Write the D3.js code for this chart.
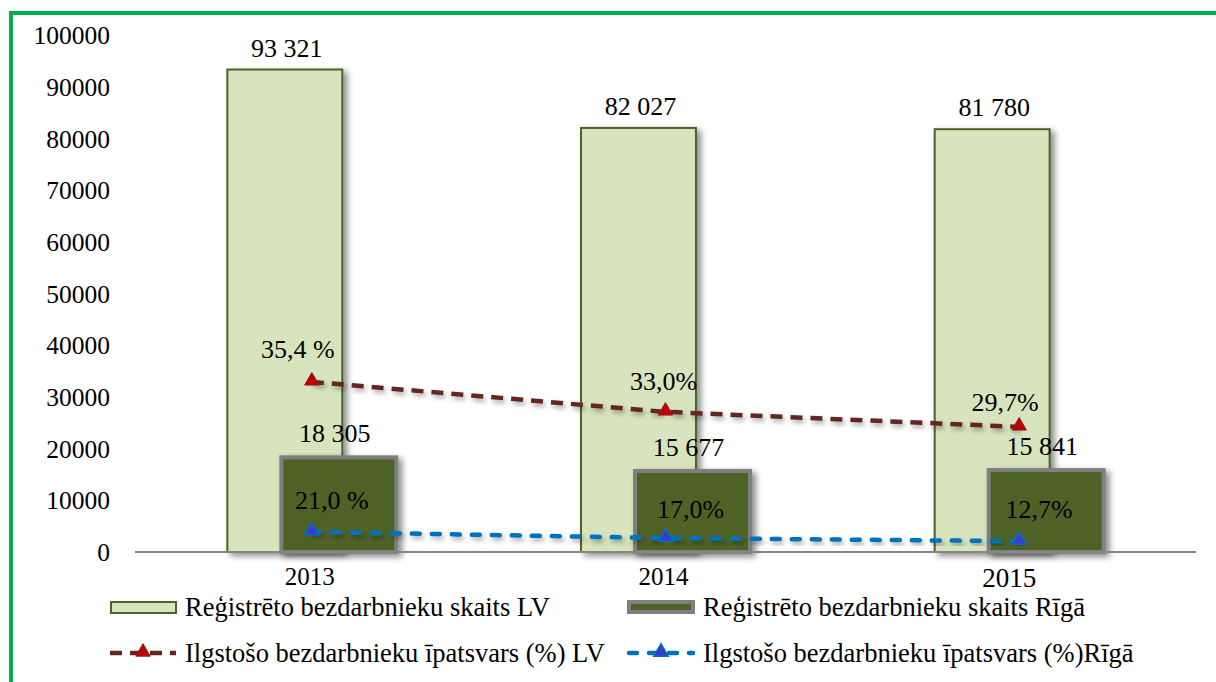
<!DOCTYPE html>
<html>
<head>
<meta charset="utf-8">
<script src="https://cdn.jsdelivr.net/npm/d3@7"></script>
<style>
  body { margin: 0; background: #fff; }
  svg text { font-family: "Liberation Serif", "Times New Roman", serif; fill: #000; }
</style>
</head>
<body>
<div id="chart"></div>
<script>
// data
const years = ["2013", "2014", "2015"];
const regLV = [93321, 82027, 81780];
const regRiga = [18305, 15677, 15841];
// long-term share, plotted on a hidden secondary axis (0..100)
const shareLV = [32.9, 27.1, 24.2];
const shareRiga = [3.9, 2.7, 2.1];
const shareLVLabels = ["35,4 %", "33,0%", "29,7%"];
const shareRigaLabels = ["21,0 %", "17,0%", "12,7%"];
const yTicks = [0, 10000, 20000, 30000, 40000, 50000, 60000, 70000, 80000, 90000, 100000];

const W = 1216, H = 682;
const plot = {left: 135, right: 1196, top: 35, bottom: 552};

const svg = d3.select("#chart").append("svg")
    .attr("width", W)
    .attr("height", H);

let defs = svg.append("defs");
let sh = defs.append("filter").attr("id", "shadow")
    .attr("x", "-20%").attr("y", "-20%").attr("width", "150%").attr("height", "150%");
sh.append("feDropShadow").attr("dx", 4).attr("dy", 3).attr("stdDeviation", 3)
    .attr("flood-color", "#000").attr("flood-opacity", 0.45);
let shl = defs.append("filter").attr("id", "lshadow")
    .attr("x", "-5%").attr("y", "-50%").attr("width", "110%").attr("height", "200%");
shl.append("feDropShadow").attr("dx", 2).attr("dy", 3).attr("stdDeviation", 2.5)
    .attr("flood-color", "#000").attr("flood-opacity", 0.35);

// green frame
svg.append("rect")
    .attr("x", 11).attr("y", 13)
    .attr("width", 1240).attr("height", 700)
    .attr("fill", "none")
    .attr("stroke", "#00b050")
    .attr("stroke-width", 4);

let x = d3.scaleBand()
    .domain(years)
    .range([plot.left, plot.right]);

let y = d3.scaleLinear()
    .domain([0, 100000])
    .range([plot.bottom, plot.top]);

let yPct = d3.scaleLinear()
    .domain([0, 100])
    .range([plot.bottom, plot.top]);

let barW = x.bandwidth() * 0.325;
let offset = barW * 0.47;
let cx = d => x(d) + x.bandwidth() / 2;
let lvX = d => cx(d) - (barW + offset) / 2;
let rigaX = d => lvX(d) + offset;

// y axis labels (no axis line)
let yaxis = svg.append("g")
    .attr("transform", "translate(" + 110 + ",0)")
    .call(d3.axisLeft(y).tickValues(yTicks).tickFormat(d3.format("d")).tickSize(0).tickPadding(0));
yaxis.select(".domain").remove();
yaxis.attr("font-family", null);
yaxis.selectAll("text")
    .style("font-family", '"Liberation Serif", serif')
    .attr("font-size", 25.5)
    .attr("dy", "0.34em")
    .attr("fill", "#000");

// bars LV
svg.append("g").selectAll("rect")
    .data(years)
    .join("rect")
    .attr("x", d => lvX(d))
    .attr("y", (d, i) => y(regLV[i]))
    .attr("width", barW)
    .attr("height", (d, i) => y(0) - y(regLV[i]))
    .attr("fill", "#d7e4bd")
    .attr("stroke", "#4f6228")
    .attr("stroke-width", 2)
    .attr("filter", "url(#shadow)");

// bars Riga
svg.append("g").selectAll("rect")
    .data(years)
    .join("rect")
    .attr("x", d => rigaX(d))
    .attr("y", (d, i) => y(regRiga[i]))
    .attr("width", barW)
    .attr("height", (d, i) => y(0) - y(regRiga[i]))
    .attr("fill", "#4f6228")
    .attr("stroke", "#7f7f7f")
    .attr("stroke-width", 4)
    .attr("filter", "url(#shadow)");

// baseline
svg.append("line")
    .attr("x1", plot.left).attr("x2", plot.right)
    .attr("y1", y(0)).attr("y2", y(0))
    .attr("stroke", "#868686")
    .attr("stroke-width", 2);

// x labels
let xlab = svg.append("g");
xlab.selectAll("text")
    .data(years)
    .join("text")
    .attr("x", (d, i) => cx(d) - (i === 2 ? 10 : 2))
    .attr("y", (d, i) => i === 2 ? 587 : 585)
    .attr("text-anchor", "middle")
    .attr("font-size", (d, i) => i === 2 ? 27 : 25)
    .text(d => d);

// lines
let lineLV = d3.line().x(d => cx(d.year)).y(d => yPct(d.v));
let lvPts = years.map((d, i) => ({year: d, v: shareLV[i]}));
let rigaPts = years.map((d, i) => ({year: d, v: shareRiga[i]}));

svg.append("path")
    .datum(lvPts)
    .attr("d", lineLV)
    .attr("fill", "none")
    .attr("stroke", "#632523")
    .attr("stroke-width", 4.5)
    .attr("stroke-dasharray", "12,8")
    .attr("filter", "url(#lshadow)");

svg.append("path")
    .datum(rigaPts)
    .attr("d", lineLV)
    .attr("fill", "none")
    .attr("stroke", "#0070c0")
    .attr("stroke-width", 4.5)
    .attr("stroke-linecap", "round")
    .attr("stroke-dasharray", "8,12")
    .attr("filter", "url(#lshadow)");

let tri = d3.symbol().type(d3.symbolTriangle).size(90);

svg.append("g").selectAll("path")
    .data(lvPts)
    .join("path")
    .attr("d", tri)
    .attr("transform", d => "translate(" + cx(d.year) + "," + (yPct(d.v) - 1) + ")")
    .attr("fill", "#c00000")
    .attr("stroke", "#8b1a1a")
    .attr("stroke-width", 1);

svg.append("g").selectAll("path")
    .data(rigaPts)
    .join("path")
    .attr("d", tri)
    .attr("transform", d => "translate(" + cx(d.year) + "," + (yPct(d.v) - 1) + ")")
    .attr("fill", "#3a3acc")
    .attr("stroke", "#0070c0")
    .attr("stroke-width", 1.5);

// value labels
let labels = svg.append("g").attr("font-size", 26);

labels.selectAll(".lvlab")
    .data(years)
    .join("text")
    .attr("x", d => lvX(d) + barW / 2 + 2)
    .attr("y", (d, i) => y(regLV[i]) - 13)
    .attr("text-anchor", "middle")
    .text((d, i) => d3.format(",")(regLV[i]).replace(",", " "));

labels.selectAll(".rigalab")
    .data(years)
    .join("text")
    .attr("x", d => rigaX(d) + barW / 2 - 4)
    .attr("y", (d, i) => y(regRiga[i]) - 15)
    .attr("text-anchor", "middle")
    .text((d, i) => d3.format(",")(regRiga[i]).replace(",", " "));

// label nudges (px) for the share labels
const lvLabDx = [-14, -2, -14];
const lvLabDy = [-24, -22, -16];
const rigaLabDx = [20, 25, 20];
const rigaLabDy = [-23, -20, -23];

labels.selectAll(".plv")
    .data(years)
    .join("text")
    .attr("x", (d, i) => cx(d) + lvLabDx[i])
    .attr("y", (d, i) => yPct(shareLV[i]) + lvLabDy[i])
    .attr("text-anchor", "middle")
    .text((d, i) => shareLVLabels[i]);

labels.selectAll(".priga")
    .data(years)
    .join("text")
    .attr("x", (d, i) => cx(d) + rigaLabDx[i])
    .attr("y", (d, i) => yPct(shareRiga[i]) + rigaLabDy[i])
    .attr("text-anchor", "middle")
    .text((d, i) => shareRigaLabels[i]);

// legend
let legend = svg.append("g").attr("font-size", 26.5);

let lg1 = legend.append("g").attr("transform", "translate(110,607)");
lg1.append("rect").attr("x", 1).attr("y", -5).attr("width", 65).attr("height", 11)
    .attr("fill", "#d7e4bd").attr("stroke", "#4f6228").attr("stroke-width", 2);
lg1.append("text").attr("x", 75).attr("y", 9).text("Reģistrēto bezdarbnieku skaits LV");

let lg2 = legend.append("g").attr("transform", "translate(627,607)");
lg2.append("rect").attr("x", 2).attr("y", -5).attr("width", 64).attr("height", 10)
    .attr("fill", "#4f6228").attr("stroke", "#7f7f7f").attr("stroke-width", 4);
lg2.append("text").attr("x", 76).attr("y", 9).text("Reģistrēto bezdarbnieku skaits Rīgā");

let lg3 = legend.append("g").attr("transform", "translate(110,653)");
lg3.append("line").attr("x1", 0).attr("x2", 66).attr("y1", 0).attr("y2", 0)
    .attr("stroke", "#632523").attr("stroke-width", 4.5).attr("stroke-dasharray", "12,8");
lg3.append("path").attr("d", tri).attr("transform", "translate(33,-1)")
    .attr("fill", "#c00000").attr("stroke", "#8b1a1a");
lg3.append("text").attr("x", 75).attr("y", 9).text("Ilgstošo bezdarbnieku īpatsvars (%) LV");

let lg4 = legend.append("g").attr("transform", "translate(627,653)");
lg4.append("line").attr("x1", 2).attr("x2", 66).attr("y1", 0).attr("y2", 0)
    .attr("stroke", "#0070c0").attr("stroke-width", 4.5).attr("stroke-linecap", "round")
    .attr("stroke-dasharray", "8,12");
lg4.append("path").attr("d", tri).attr("transform", "translate(34,-1)")
    .attr("fill", "#3a3acc").attr("stroke", "#0070c0").attr("stroke-width", 1.5);
lg4.append("text").attr("x", 76).attr("y", 9).text("Ilgstošo bezdarbnieku īpatsvars (%)Rīgā");
</script>
</body>
</html>
